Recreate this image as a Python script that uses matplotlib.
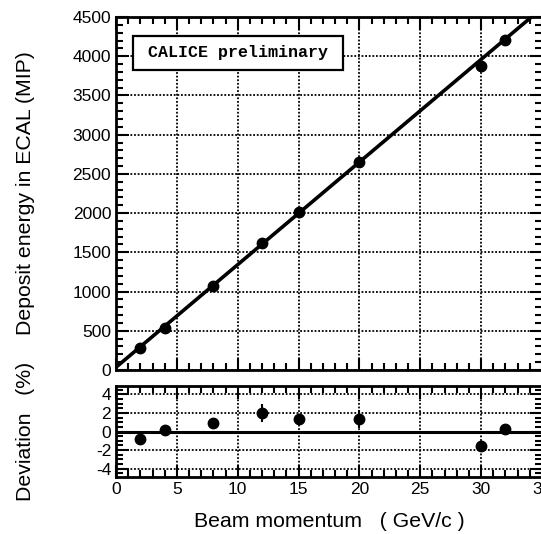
import numpy as np
import matplotlib
matplotlib.use("Agg")
import matplotlib.pyplot as plt
from matplotlib.patches import Rectangle
from matplotlib.ticker import MultipleLocator

plt.rcParams['font.family'] = ['Liberation Sans', 'DejaVu Sans']
plt.rcParams['axes.unicode_minus'] = False

# beam momenta (GeV/c) and measured ECAL energy (MIP)
momentum = [2, 4, 8, 12, 15, 20, 30, 32]
energy = [277, 539, 1075, 1619, 2014, 2656, 3880, 4207]
energy_err = [8, 10, 15, 20, 20, 25, 15, 15]

# relative deviation from the linear fit (%)
deviation = [-0.82, 0.18, 0.96, 2.0, 1.32, 1.36, -1.53, 0.32]
deviation_err = [0.6, 0.3, 0.3, 0.95, 0.45, 0.95, 0.3, 0.2]

# linear fit E = slope * p + offset
fit_slope = 130.8
fit_offset = 35.0

fig = plt.figure(figsize=(5.41, 5.34), dpi=100)
ax = fig.add_axes([0.2144, 0.3071, 0.7874, 0.6611])
axd = fig.add_axes([0.2144, 0.1067, 0.7874, 0.1704])

# upper panel: energy vs momentum
p_line = np.array([0, 35])
ax.plot(p_line, fit_slope * p_line + fit_offset, color='black', lw=2.6, zorder=3)
ax.errorbar(momentum, energy, yerr=energy_err, fmt='o', color='black',
            ms=7.5, elinewidth=1.5, capsize=0, zorder=4)
ax.set_xlim(0, 35)
ax.set_ylim(0, 4500)
ax.xaxis.set_major_locator(MultipleLocator(5))
ax.xaxis.set_minor_locator(MultipleLocator(1))
ax.yaxis.set_major_locator(MultipleLocator(500))
ax.yaxis.set_minor_locator(MultipleLocator(100))
ax.tick_params(labelbottom=False)
ax.set_ylabel('Deposit energy in ECAL (MIP)', fontsize=15.3)
ax.yaxis.set_label_coords(-0.19, 0.5)

ax.add_patch(Rectangle((0.04, 0.85), 0.493, 0.096, transform=ax.transAxes,
                       facecolor='white', edgecolor='black', lw=1.6, zorder=5))
ax.text(0.286, 0.898, 'CALICE preliminary', transform=ax.transAxes,
        ha='center', va='center', fontsize=12, fontweight='bold',
        family='Liberation Mono', zorder=6)

# lower panel: deviation from the fit
axd.axhline(0, color='black', lw=2.2, zorder=3)
axd.errorbar(momentum, deviation, yerr=deviation_err, fmt='o', color='black',
             ms=7.5, elinewidth=1.5, capsize=0, zorder=4)
axd.set_xlim(0, 35)
axd.set_ylim(-4.9, 4.9)
axd.xaxis.set_major_locator(MultipleLocator(5))
axd.xaxis.set_minor_locator(MultipleLocator(1))
axd.yaxis.set_major_locator(MultipleLocator(2))
axd.yaxis.set_minor_locator(MultipleLocator(0.5))
axd.set_ylabel('Deviation   (%)', fontsize=15.3)
axd.yaxis.set_label_coords(-0.19, 0.5)
axd.set_xlabel('Beam momentum   ( GeV/c )', fontsize=15.3, labelpad=11)

for a in (ax, axd):
    a.grid(True, which='major', color='black', ls=(0, (1, 1)), lw=1.3)
    a.set_axisbelow(True)
    a.tick_params(which='both', direction='in', top=True, right=True,
                  width=1.5, labelsize=12.5, colors='black')
    a.tick_params(which='major', length=9)
    a.tick_params(which='minor', length=5)
    for s in a.spines.values():
        s.set_linewidth(2)

fig.savefig('out.png', dpi=100)
